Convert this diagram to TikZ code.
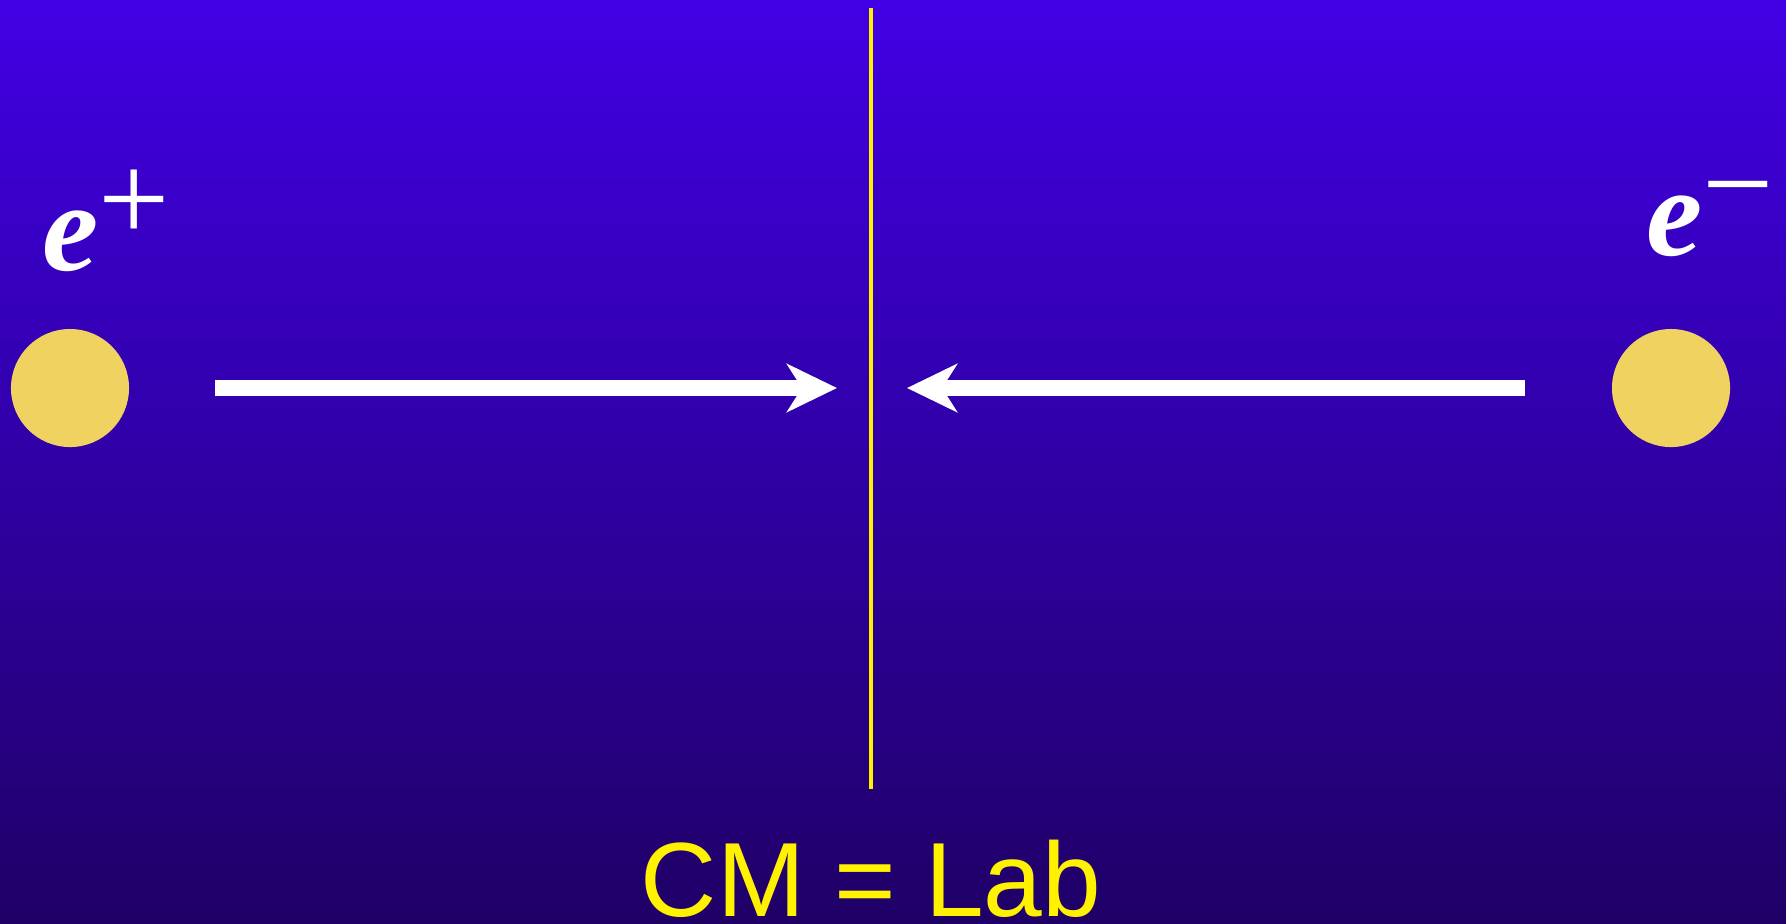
\documentclass[tikz,border=0pt]{standalone}
\usepackage{fontspec}
\setmainfont{Liberation Serif}
\newfontfamily\labfont{Liberation Sans}
\usetikzlibrary{arrows.meta}
\definecolor{skytop}{RGB}{65,0,228}
\definecolor{skybottom}{RGB}{31,0,102}
\definecolor{ballgold}{RGB}{240,210,96}
\tikzset{
  ball/.style={circle, fill=ballgold, minimum size=1.18cm, inner sep=0pt},
  beam/.style={white, line width=0.16cm, -{Stealth[length=0.5cm, width=0.48cm, inset=0.15cm]}},
  plabel/.style={white, font=\fontsize{36}{40}\selectfont, anchor=base west, inner sep=0pt}
}
\begin{document}
\begin{tikzpicture}[x=0.01cm, y=-0.01cm]
  % background, 1786 x 923
  \shade[top color=skytop, bottom color=skybottom] (0,0) rectangle (1786,923);
  \useasboundingbox (0,0) rectangle (1786,923);

  % symmetry line
  \coordinate (top) at (871,8);
  \coordinate (bottom) at (871,789);
  \draw[yellow, line width=0.04cm] (top) -- (bottom);

  % beams
  \node[ball] (pos) at (70,388) {};
  \node[ball] (ele) at (1671,388) {};
  \node[plabel] (poslabel) at (42,270) {\bfseries\itshape e\raisebox{8.2pt}{\normalfont\mdseries +}};
  \node[plabel] (elelabel) at (1646,255) {\bfseries\itshape e\raisebox{8.2pt}{\normalfont\mdseries −}};

  \coordinate (posstart) at (215,388);
  \coordinate (postip) at (837,388);
  \coordinate (elestart) at (1525,388);
  \coordinate (eletip) at (907,388);
  \draw[beam] (posstart) -- (postip);
  \draw[beam] (elestart) -- (eletip);

  \node[yellow, font=\labfont\fontsize{30}{34}\selectfont, anchor=base, inner sep=0pt] (frame) at (871,916) {CM = Lab};
\end{tikzpicture}
\end{document}
